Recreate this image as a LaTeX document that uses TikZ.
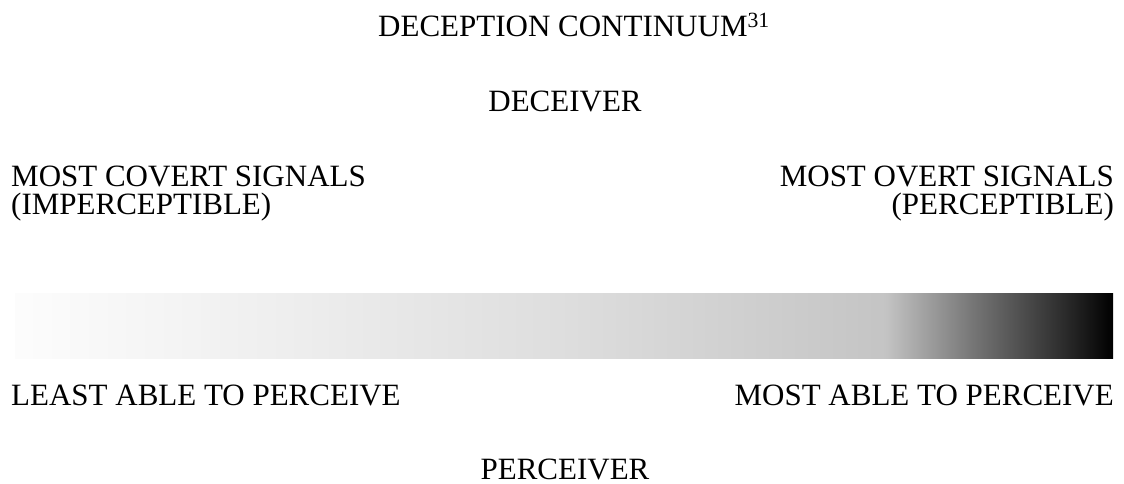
\documentclass[tikz,border=0pt]{standalone}
\usepackage{fontspec}
\setmainfont{Liberation Serif}
\definecolor{gA}{gray}{0.99}
\definecolor{gB}{gray}{0.93}
\definecolor{gC}{gray}{0.87}
\definecolor{gD}{gray}{0.79}
\definecolor{gE}{gray}{0.77}
\definecolor{gF}{gray}{0.47}
\definecolor{gG}{gray}{0.15}
\definecolor{gH}{gray}{0.0}
\tikzset{
  lbl/.style={inner sep=0pt, font=\fontsize{31}{27}\selectfont, text=black},
  seg/.style={draw=none}
}
\begin{document}
\begin{tikzpicture}[x=1pt,y=-1pt]
\useasboundingbox (0,0) rectangle (1124,484);
% titles
\node[lbl, anchor=base west] (title) at (378,37) {DECEPTION CONTINUUM\textsuperscript{31}};
\node[lbl, anchor=base] (deceiver) at (565,112) {DECEIVER};
% left and right upper labels
\node[lbl, anchor=base west] (covert1) at (11,186) {MOST COVERT SIGNALS};
\node[lbl, anchor=base west] (covert2) at (11,214) {(IMPERCEPTIBLE)};
\node[lbl, anchor=base east] (overt1) at (1114,186) {MOST OVERT SIGNALS};
\node[lbl, anchor=base east] (overt2) at (1114,214) {(PERCEPTIBLE)};
% gradient bar
\shade[seg, left color=gA, right color=gB] (15,293) rectangle (300.5,358);
\shade[seg, left color=gB, right color=gC] (300,293) rectangle (560.5,358);
\shade[seg, left color=gC, right color=gD] (560,293) rectangle (820.5,358);
\shade[seg, left color=gD, right color=gE] (820,293) rectangle (885.5,358);
\shade[seg, left color=gE, right color=gF] (885,293) rectangle (970.5,358);
\shade[seg, left color=gF, right color=gG] (970,293) rectangle (1070.5,358);
\shade[seg, left color=gG, right color=gH] (1070,293) rectangle (1113,358);
% lower labels
\node[lbl, anchor=base west] (least) at (11,405) {LEAST ABLE TO PERCEIVE};
\node[lbl, anchor=base east] (most) at (1114,405) {MOST ABLE TO PERCEIVE};
\node[lbl, anchor=base] (perceiver) at (565,479) {PERCEIVER};
\end{tikzpicture}
\end{document}
